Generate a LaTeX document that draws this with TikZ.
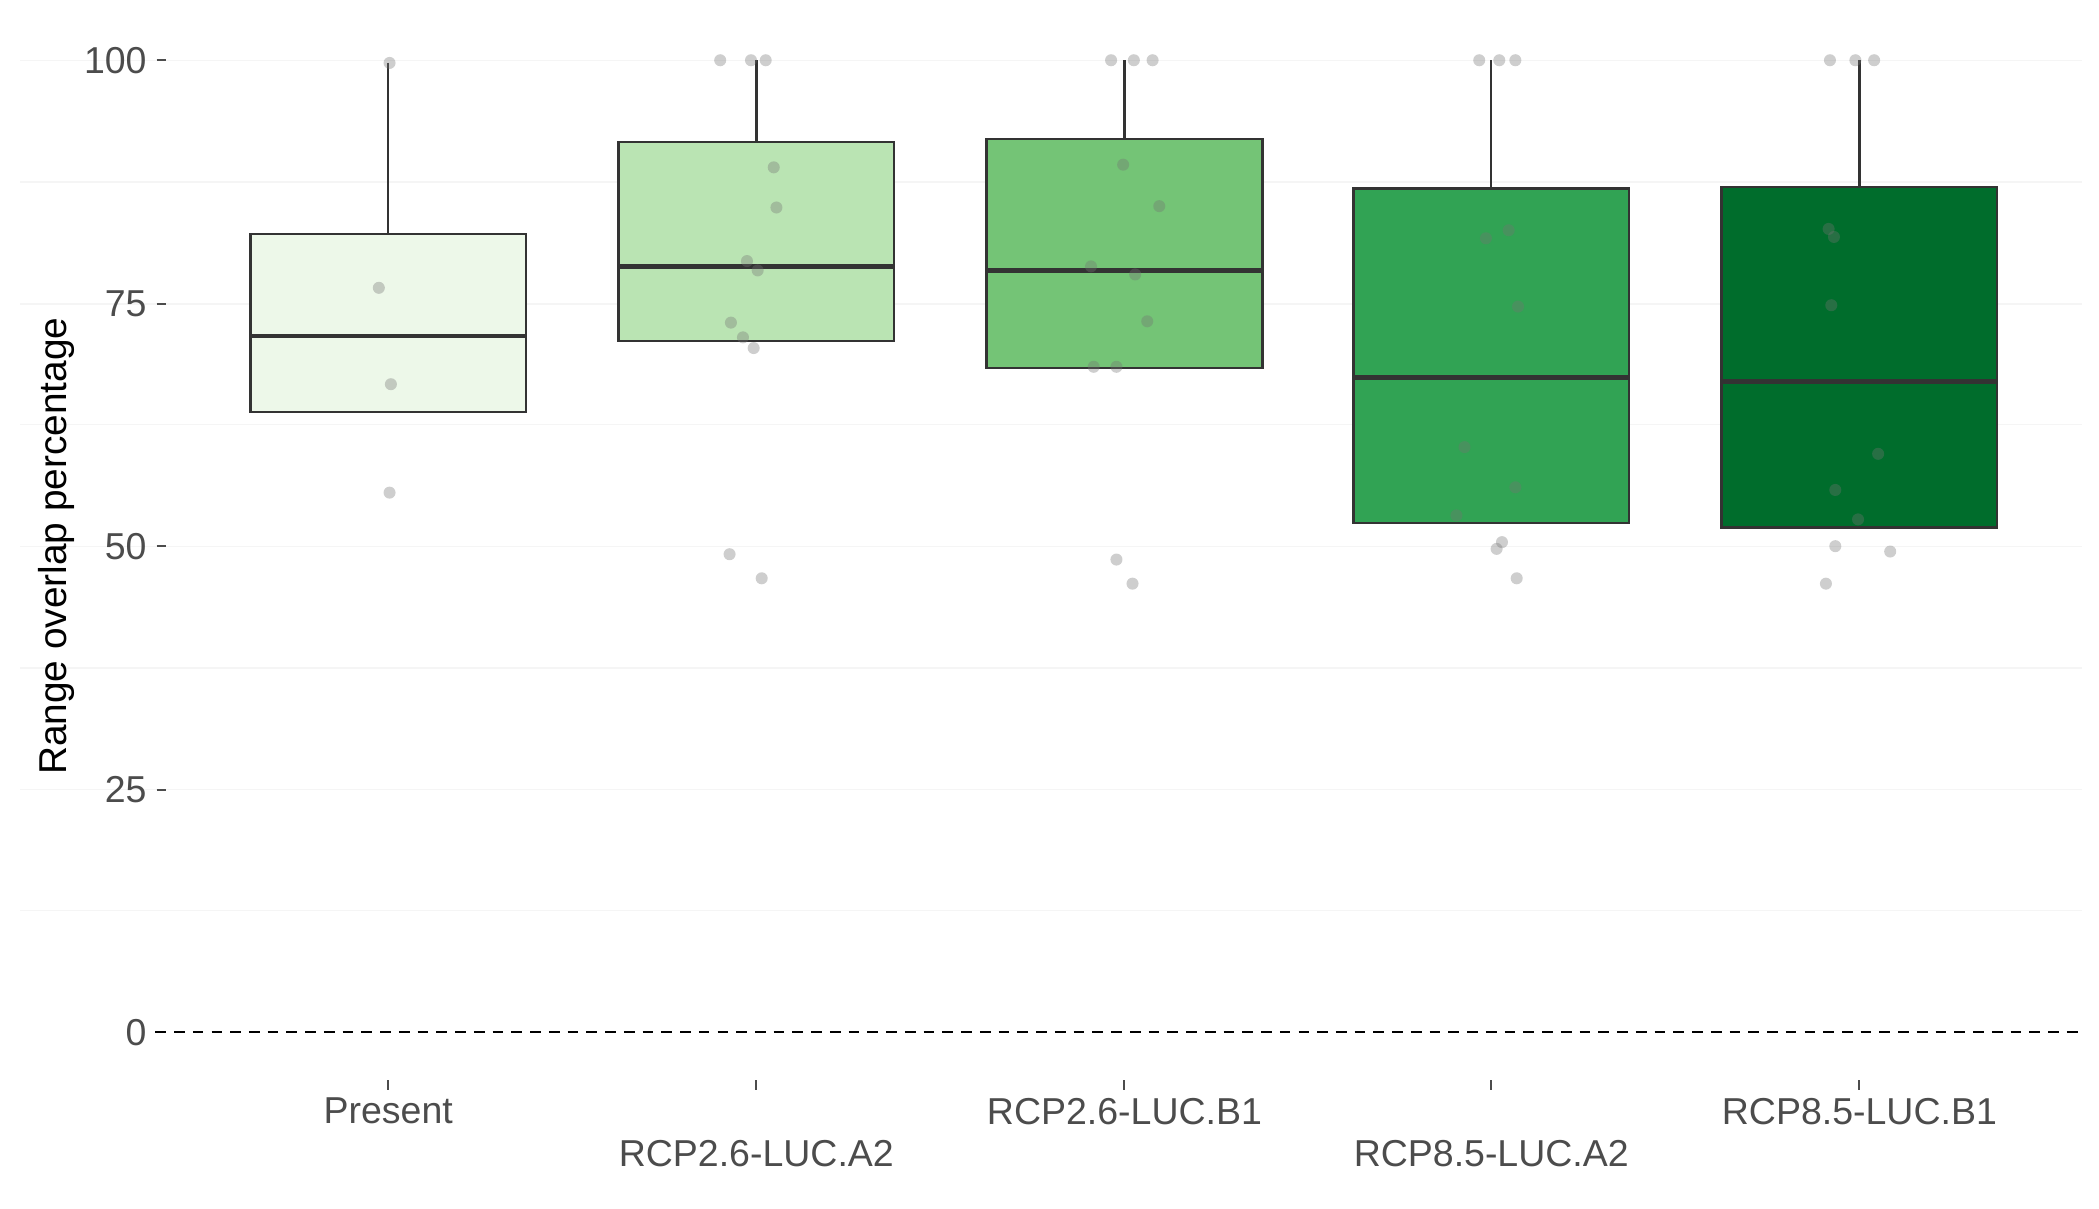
\documentclass[tikz,border=0pt]{standalone}
\usepackage{fontspec}
\setmainfont{Liberation Sans}
\begin{document}
\begin{tikzpicture}[x=1pt,y=-1pt,
 box/.style={draw=black!80,line width=1.8pt},
 med/.style={draw=black!80,line width=3.5pt},
 wh/.style={draw=black!80,line width=1.8pt},
 pt/.style={fill=black!55,fill opacity=0.35,draw=none},
 tl/.style={text=black!70,font=\fontsize{28}{30}\selectfont},
 grid/.style={draw=black!4,line width=1pt}]
\useasboundingbox (0,0) rectangle (1568,903);
\foreach \y in {45,136,227,317,408,499,590,680} \draw[grid] (15,\y) -- (1555,\y);
\foreach \v/\y in {100/45,75/227,50/408,25/590,0/771}{
 \node[tl,anchor=east] (t\v) at (113,\y) {\v};
 \draw[black!70,line width=1.5pt] (117,\y) -- (124,\y);}
\draw[black,line width=1.8pt,dash pattern=on 8pt off 6pt] (116,771) -- (1555,771);
\node[rotate=90,font=\fontsize{29}{30}\selectfont] (yt) at (42,408) {Range overlap percentage};
\foreach \c/\t/\m/\b/\wt/\wb/\col/\n in {
 290/174/251/307/47/368/EDF8E9/a,
 565/105/199/254/45/432/BAE4B3/b,
 840/103/202/274/45/436/74C476/c,
 1114/140/282/390/45/432/31A354/d,
 1389/139/285/393/45/436/006D2C/e}{
 \definecolor{fc}{HTML}{\col}
 \draw[wh] (\c,\wt) -- (\c,\b);
 \node[box,fill=fc,minimum width=206pt,minimum height={\b-\t},inner sep=0pt,anchor=north] (bx\n) at (\c,\t) {};
 \draw[med] (\c-103,\m) -- (\c+103,\m);
 \draw[black!70,line width=1.5pt] (\c,807) -- (\c,814);}
\foreach \x/\y in {291/47,283/215,292/287,291/368,
 538/45,561/45,572/45,578/125,580/155,558/195,566/202,546/241,555/252,563/260,545/414,569/432,
 830/45,847/45,861/45,839/123,866/154,815/199,848/205,857/240,817/274,834/274,834/418,846/436,
 1105/45,1120/45,1132/45,1110/178,1127/172,1134/229,1094/334,1132/364,1088/385,1122/405,1118/410,1133/432,
 1367/45,1386/45,1400/45,1366/171,1370/177,1368/228,1403/339,1371/366,1388/388,1371/408,1412/412,1364/436}
 \fill[pt] (\x,\y) circle (4.5pt);
\node[tl] (l1) at (290,830) {Present};
\node[tl] (l2) at (565,862) {RCP2.6-LUC.A2};
\node[tl] (l3) at (840,830) {RCP2.6-LUC.B1};
\node[tl] (l4) at (1114,862) {RCP8.5-LUC.A2};
\node[tl] (l5) at (1389,830) {RCP8.5-LUC.B1};
\end{tikzpicture}
\end{document}
